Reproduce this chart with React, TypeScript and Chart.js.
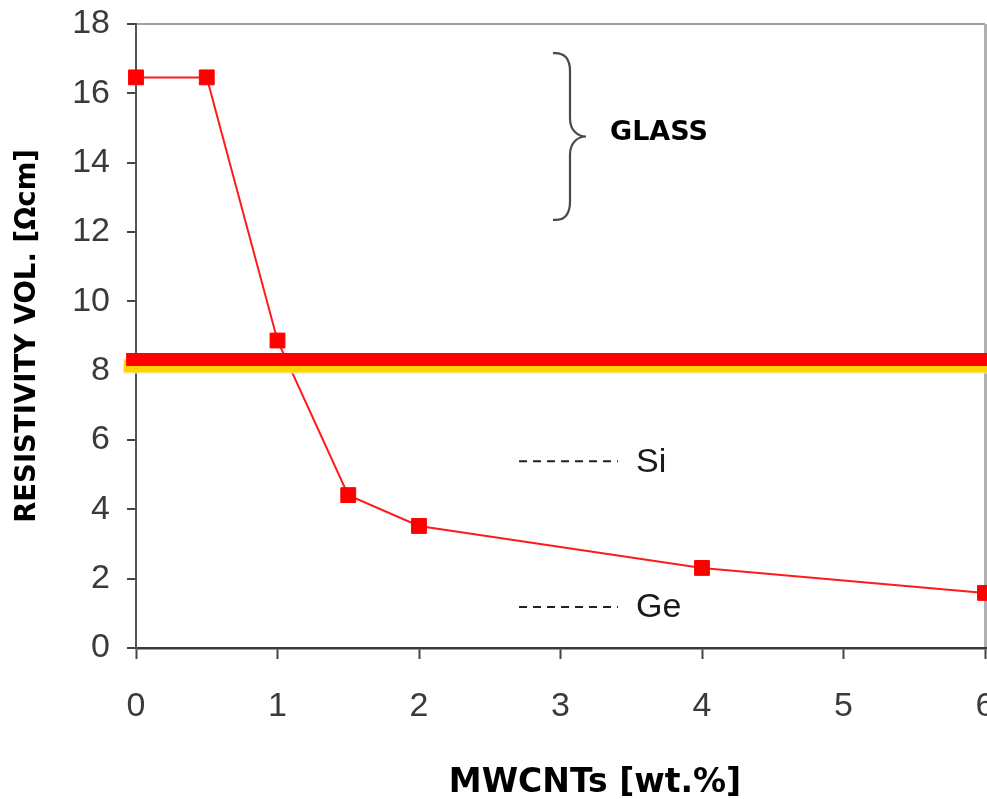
import { useEffect, useRef } from "react";
import { Chart, registerables } from "chart.js";

Chart.register(...registerables);

// MWCNT loading (wt.%) and measured volume resistivity
const loadings = [0, 0.5, 1, 1.5, 2, 4, 6];
const resistivity = [16.46, 16.46, 8.87, 4.41, 3.52, 2.31, 1.59];

// axis ticks
const xTickValues = [0, 1, 2, 3, 4, 5, 6];
const yTickValues = [0, 2, 4, 6, 8, 10, 12, 14, 16, 18];

// horizontal reference bands (red over yellow)
const bandRedLevel = 8.32;
const bandYellowLevel = 8.13;
const bandStart = -0.07;
const bandEnd = 6.03;

// reference materials drawn as dashed markers
const refNames = ["Si", "Ge"];
const refLevels = [5.39, 1.18];
const refDashFrom = 2.707;
const refDashTo = 3.406;
const refLabelAt = 3.534;

// bracket spanning the glass range
const glassLabel = "GLASS";
const glassRange = [12.35, 17.16];
const glassBracketX = 2.947;

const xTitle = "MWCNTs [wt.%]";
const yTitle = "RESISTIVITY VOL. [Ωcm]";

// the plot frame runs to the right edge, with the last tick label cut off
const plotRightInset = 2;

const annotationPlugin = {
  id: "resistivityAnnotations",
  afterLayout(chart: any) {
    const xs = chart.scales.x;
    const right = chart.width - plotRightInset;
    chart.chartArea.right = right;
    chart.chartArea.width = right - chart.chartArea.left;
    xs.right = right;
    xs.width = right - xs.left;
    xs.configure();
  },
  afterDatasetsDraw(chart: any) {
    const { ctx } = chart;
    const xs = chart.scales.x;
    const ys = chart.scales.y;
    const x0 = xs.getPixelForValue(bandStart);
    const x1 = xs.getPixelForValue(bandEnd);
    ctx.save();
    // soft yellow band
    const yY = ys.getPixelForValue(bandYellowLevel);
    ctx.lineCap = "butt";
    ctx.strokeStyle = "rgba(255, 232, 120, 0.8)";
    ctx.lineWidth = 15;
    ctx.beginPath();
    ctx.moveTo(x0 - 3, yY);
    ctx.lineTo(x1, yY);
    ctx.stroke();
    ctx.strokeStyle = "#ffd200";
    ctx.lineWidth = 12;
    ctx.beginPath();
    ctx.moveTo(x0 - 2, yY);
    ctx.lineTo(x1, yY);
    ctx.stroke();
    // red band
    const yR = ys.getPixelForValue(bandRedLevel);
    ctx.strokeStyle = "#ff0000";
    ctx.lineWidth = 13;
    ctx.beginPath();
    ctx.moveTo(x0, yR);
    ctx.lineTo(x1, yR);
    ctx.stroke();
    ctx.restore();
  },
  afterDraw(chart: any) {
    const { ctx } = chart;
    const xs = chart.scales.x;
    const ys = chart.scales.y;
    ctx.save();

    // Si / Ge dashed markers with labels
    refNames.forEach((name, i) => {
      const y = ys.getPixelForValue(refLevels[i]);
      ctx.strokeStyle = "#222";
      ctx.lineWidth = 2;
      ctx.setLineDash([8, 6]);
      ctx.beginPath();
      ctx.moveTo(xs.getPixelForValue(refDashFrom), y);
      ctx.lineTo(xs.getPixelForValue(refDashTo), y);
      ctx.stroke();
      ctx.setLineDash([]);
      ctx.fillStyle = "#1a1a1a";
      ctx.font = "34px 'Liberation Sans', Arial, sans-serif";
      ctx.textAlign = "left";
      ctx.textBaseline = "middle";
      ctx.fillText(name, xs.getPixelForValue(refLabelAt), y + 1);
    });

    // curly bracket for the glass range
    const top = ys.getPixelForValue(glassRange[1]);
    const bot = ys.getPixelForValue(glassRange[0]);
    const mid = (top + bot) / 2;
    const bx = xs.getPixelForValue(glassBracketX);
    const spine = bx + 17;
    const tip = bx + 33;
    ctx.strokeStyle = "#4a4a4a";
    ctx.lineWidth = 2.2;
    ctx.beginPath();
    ctx.moveTo(bx, top);
    ctx.bezierCurveTo(bx + 12, top - 1, spine, top + 6, spine, top + 18);
    ctx.lineTo(spine, mid - 18);
    ctx.bezierCurveTo(spine, mid - 6, tip - 8, mid, tip, mid);
    ctx.bezierCurveTo(tip - 8, mid, spine, mid + 6, spine, mid + 18);
    ctx.lineTo(spine, bot - 18);
    ctx.bezierCurveTo(spine, bot - 6, bx + 12, bot + 1, bx, bot);
    ctx.stroke();

    ctx.fillStyle = "#000";
    ctx.font = "bold 27px 'DejaVu Sans', Verdana, sans-serif";
    ctx.textAlign = "left";
    ctx.textBaseline = "middle";
    ctx.fillText(glassLabel, tip + 24, mid - 4);

    // x-axis title
    ctx.font = "bold 33px 'DejaVu Sans', Verdana, sans-serif";
    ctx.textAlign = "center";
    ctx.textBaseline = "middle";
    ctx.fillText(xTitle, 595, 783);
    ctx.restore();
  },
};

export default function App() {
  const canvasRef = useRef<HTMLCanvasElement | null>(null);

  useEffect(() => {
    const canvas = canvasRef.current;
    if (!canvas) return;
    const chart = new Chart(canvas, {
      type: "line",
      data: {
        datasets: [
          {
            data: loadings.map((x, i) => ({ x, y: resistivity[i] })),
            borderColor: "#ff1a1a",
            borderWidth: 2,
            backgroundColor: "#ff0000",
            pointBackgroundColor: "#ff0000",
            pointBorderColor: "#ff0000",
            pointBorderWidth: 1,
            pointStyle: "rect",
            pointRadius: 10.5,
            pointHoverRadius: 10.5,
            tension: 0,
            fill: false,
            clip: false as any,
          },
        ],
      },
      options: {
        responsive: false,
        animation: false,
        devicePixelRatio: 1,
        layout: { padding: { top: 24, right: 2, bottom: 0, left: 0 } },
        plugins: {
          legend: { display: false },
          tooltip: { enabled: false },
        },
        scales: {
          x: {
            type: "linear",
            min: 0,
            max: 6,
            afterBuildTicks: (scale: any) => {
              scale.ticks = xTickValues.map((v) => ({ value: v }));
            },
            afterFit: (scale: any) => {
              scale.height = 151;
              scale.paddingLeft = 0;
              scale.paddingRight = 0;
            },
            ticks: {
              color: "#3a3a3a",
              font: { family: "'Liberation Sans', Arial, sans-serif", size: 34 },
              padding: 27,
              maxRotation: 0,
              autoSkip: false,
            },
            grid: {
              color: (c: any) => (c.tick && c.tick.value === 6 ? "#b0b0b0" : "rgba(0,0,0,0)"),
              lineWidth: 3,
              tickColor: "#444",
              tickWidth: 2,
              tickLength: 11,
            },
            border: { color: "#3a3a3a", width: 2.5 },
          },
          y: {
            type: "linear",
            min: 0,
            max: 18,
            afterBuildTicks: (scale: any) => {
              scale.ticks = yTickValues.map((v) => ({ value: v }));
            },
            afterFit: (scale: any) => {
              scale.width = 136;
              scale.paddingTop = 0;
              scale.paddingBottom = 0;
            },
            ticks: {
              color: "#3a3a3a",
              font: { family: "'Liberation Sans', Arial, sans-serif", size: 34 },
              padding: 17,
              autoSkip: false,
            },
            grid: {
              color: (c: any) => (c.tick && c.tick.value === 18 ? "#a0a0a0" : "rgba(0,0,0,0)"),
              lineWidth: 2,
              tickColor: "#444",
              tickWidth: 2,
              tickLength: 9,
            },
            border: { color: "#555", width: 2 },
            title: {
              display: true,
              text: yTitle,
              color: "#000",
              font: { family: "'DejaVu Sans', Verdana, sans-serif", size: 27.5, weight: "bold" },
              padding: { top: 11, bottom: 0 },
            },
          },
        },
      },
      plugins: [annotationPlugin],
    } as any);
    return () => chart.destroy();
  }, []);

  return (
    <div style={{ position: "fixed", left: 0, top: 0, width: 987, height: 799, background: "#fff" }}>
      <canvas ref={canvasRef} width={987} height={799} />
    </div>
  );
}
